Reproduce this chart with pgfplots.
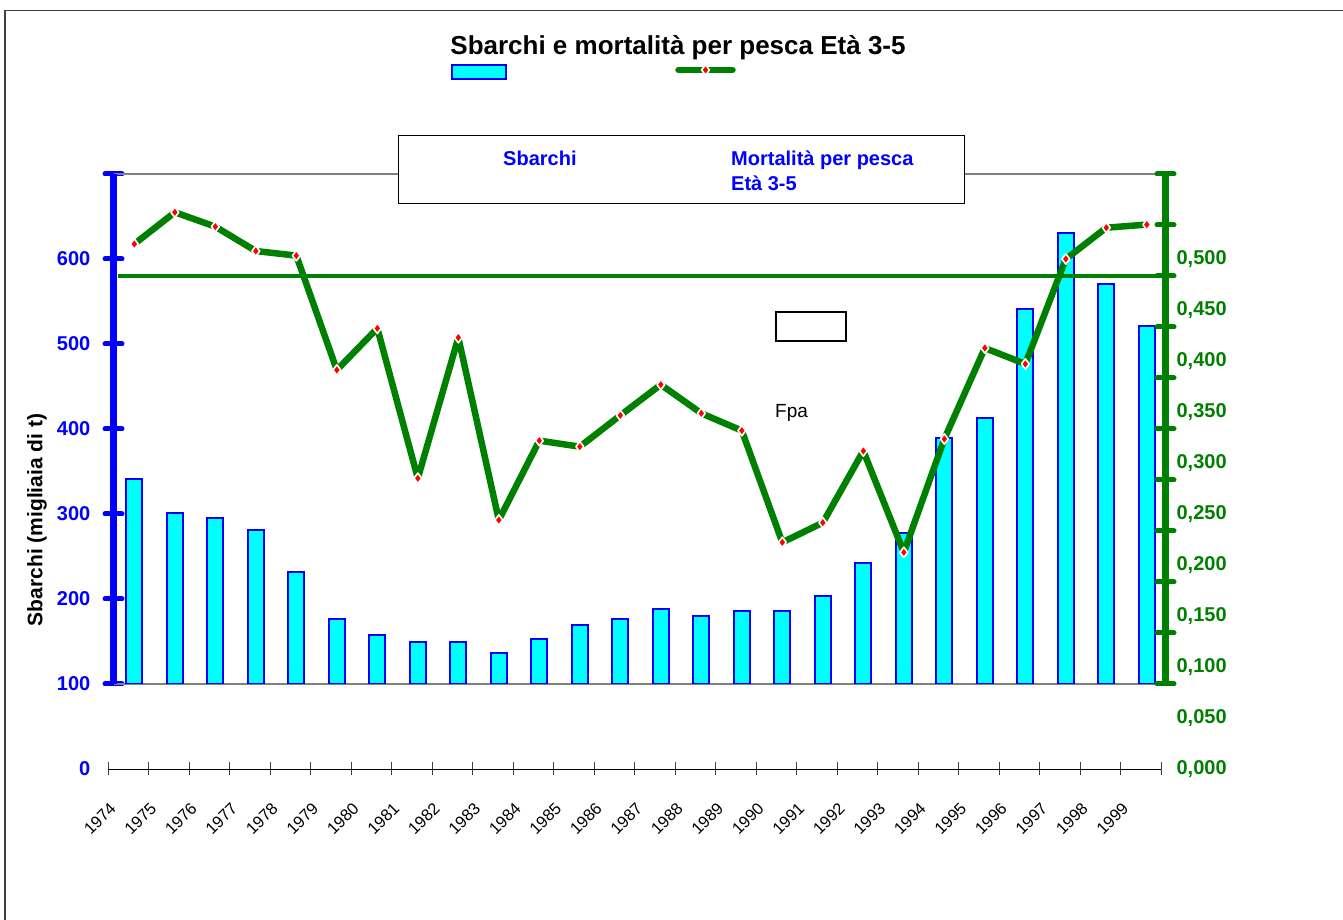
\documentclass[border=0pt]{standalone}
\usepackage{fontspec}
\setmainfont{Liberation Sans}
\usepackage{pgfplots}
\usepackage{pgfplotstable}
\pgfplotsset{compat=1.18}
\definecolor{fgreen}{RGB}{0,128,0}
\definecolor{xblue}{RGB}{0,0,255}
\definecolor{xcyan}{RGB}{0,255,255}
\definecolor{xred}{RGB}{255,0,0}
\definecolor{xgray}{RGB}{128,128,128}
\pgfplotsset{
  flegend/.style={legend image code/.code={\draw[mark repeat=2, mark phase=2, ##1] plot coordinates {(3pt,0pt) (30pt,0pt) (57pt,0pt)};}},
  blegend/.style={legend image code/.code={\draw[draw=xblue, fill=xcyan, line width=2pt] (0pt,-7pt) rectangle (54pt,7pt);}},
}

\pgfplotstableread{
idx year S F
0 1974 341 0.5147
1 1975 301 0.5458
2 1976 295 0.5317
3 1977 281 0.5078
4 1978 232 0.5033
5 1979 177 0.3912
6 1980 158 0.4320
7 1981 149 0.2850
8 1982 149 0.4229
9 1983 137 0.2441
10 1984 153 0.3219
11 1985 169 0.3160
12 1986 176 0.3467
13 1987 188 0.3768
14 1988 180 0.3487
15 1989 186 0.3317
16 1990 186 0.2222
17 1991 204 0.2415
18 1992 242 0.3118
19 1993 278 0.2124
20 1994 389 0.3235
21 1995 413 0.4127
22 1996 541 0.3971
23 1997 630 0.5000
24 1998 570 0.5307
25 1999 521 0.5337
}\data

\pgfplotstableread{
x F
-0.395 0.4835
25.32 0.4835
}\fpa

\begin{document}
\begin{tikzpicture}[x=1pt,y=1pt]
\useasboundingbox (0,0) rectangle (1343,920);
\draw[black!75, line width=1.5pt] (5,0) -- (5,909.3) -- (1343,909.3);

% ---- bars axis (left blue axis, gray frame lines)
\begin{axis}[
  at={(113.5pt,236pt)}, anchor=south west, scale only axis,
  width=1052pt, height=510pt,
  xmin=-0.5136, xmax=25.462, ymin=100, ymax=700,
  axis x line=box, axis y line*=left,
  x axis line style={-, draw=xgray, line width=2pt},
  y axis line style={-, draw=xblue, line width=7pt},
  xtick=\empty,
  ytick={100,200,...,700}, yticklabel=\mbox{},
  ytick style={draw=xblue, line width=5pt, line cap=round},
  major tick length=17pt, tick align=center,
  legend style={draw=none, fill=none, inner sep=0pt, nodes={inner sep=0pt},
    at={(axis description cs:0.3208,1.2004)}, anchor=west},
]
\addplot[ybar, bar width=16pt, draw=xblue, fill=xcyan, line width=2pt, blegend]
  table[x=idx, y=S] {\data};
\addlegendentry{\mbox{}}
\end{axis}

% ---- right green axis with its tick marks
\begin{axis}[
  at={(113.5pt,236pt)}, anchor=south west, scale only axis,
  width=1052pt, height=510pt,
  xmin=0, xmax=1, ymin=0, ymax=10,
  axis x line=none, axis y line*=right,
  y axis line style={-, draw=fgreen, line width=7pt},
  ytick={0,1,...,10}, yticklabel=\mbox{},
  ytick style={draw=fgreen, line width=5pt, line cap=round},
  major tick length=17pt, tick align=center,
]
\addplot[draw=none, mark=none, forget plot] coordinates {(0,0)};
\end{axis}

% ---- category axis, left labels, title
\begin{axis}[
  at={(108pt,151pt)}, anchor=south west, scale only axis,
  width=1053.4pt, height=595pt,
  xmin=-0.65, xmax=25.36, ymin=0, ymax=700,
  axis x line*=bottom, axis y line*=left,
  x axis line style={-, draw=black, line width=0.8pt},
  y axis line style={draw=none},
  xtick={-0.65,0.35,1.35,2.35,3.35,4.35,5.35,6.35,7.35,8.35,9.35,10.35,11.35,12.35,13.35,14.35,15.35,16.35,17.35,18.35,19.35,20.35,21.35,22.35,23.35,24.35,25.35},
  xticklabels={1974,1975,1976,1977,1978,1979,1980,1981,1982,1983,1984,1985,1986,1987,1988,1989,1990,1991,1992,1993,1994,1995,1996,1997,1998,1999,},
  xtick style={draw=black!75, line width=0.8pt},
  major tick length=13pt, tick align=center,
  xticklabel style={inner sep=0pt, xshift=5pt, yshift=-30pt, rotate=45, anchor=east,
    font=\fontsize{16.5}{19}\selectfont},
  ytick={0,100,...,600}, ytick style={draw=none},
  yticklabel style={inner sep=0pt, anchor=east, xshift=-11pt, text=xblue,
    font=\bfseries\fontsize{20}{24}\selectfont},
  /pgf/number format/assume math mode=true,
  ylabel={Sbarchi (migliaia di t)},
  ylabel style={at={(axis description cs:-0.0674,0.4185)}, anchor=center,
    font=\bfseries\fontsize{21}{24}\selectfont},
  title={Sbarchi e mortalità per pesca Età 3-5},
  title style={at={(axis description cs:0.5411,1.2017)}, anchor=center,
    font=\bfseries\fontsize{26}{30}\selectfont},
]
\addplot[draw=none, mark=none, forget plot] coordinates {(0,0)};
\end{axis}

% ---- mortality axis (right labels, F line, Fpa)
\begin{axis}[
  at={(108pt,151pt)}, anchor=south west, scale only axis,
  width=1053.4pt, height=595pt,
  xmin=-0.65, xmax=25.36, ymin=0, ymax=0.583333,
  axis x line=none, axis y line*=right,
  y axis line style={draw=none},
  ytick={0,0.05,0.1,0.15,0.2,0.25,0.3,0.35,0.4,0.45,0.5},
  ytick style={draw=none},
  yticklabel style={inner sep=0pt, anchor=west, xshift=15pt, text=fgreen,
    font=\bfseries\fontsize{20}{24}\selectfont,
    /pgf/number format/.cd, fixed, fixed zerofill, precision=3, use comma},
  /pgf/number format/assume math mode=true,
  clip=false,
  legend style={draw=none, fill=none, inner sep=0pt, nodes={inner sep=0pt},
    at={(axis description cs:0.5383,1.1748)}, anchor=west},
]
\addplot[fgreen, line width=3.5pt, mark=none, forget plot] table[x=x, y=F] {\fpa};
\addplot[fgreen, line width=6.5pt, line join=round, line cap=round,
  mark=diamond*, mark size=5.2pt,
  mark options={fill=xred, draw=white, line width=1.6pt, solid}, flegend]
  table[x=idx, y=F] {\data};
\addlegendentry{\mbox{}}
\end{axis}

% ---- boxed legend texts and annotations
\draw[black, fill=white, line width=1pt] (398,784) rectangle (964,716);
\node[anchor=base west, inner sep=0pt, text=xblue, font=\bfseries\fontsize{20}{24}\selectfont] at (503,754) {Sbarchi};
\node[anchor=base west, inner sep=0pt, text=xblue, font=\bfseries\fontsize{20}{24}\selectfont] at (731,754) {Mortalità per pesca};
\node[anchor=base west, inner sep=0pt, text=xblue, font=\bfseries\fontsize{20}{24}\selectfont] at (731,729.5) {Età 3-5};
\draw[black, line width=1.5pt] (776,608) rectangle (846,579);
\node[anchor=base west, inner sep=0pt, font=\fontsize{19}{22}\selectfont] at (775,502) {Fpa};
\end{tikzpicture}
\end{document}
